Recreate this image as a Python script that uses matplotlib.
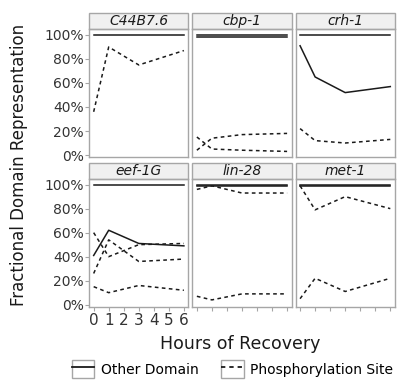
import matplotlib
matplotlib.use("Agg")
import matplotlib.pyplot as plt
from matplotlib.lines import Line2D
from matplotlib.patches import Rectangle
from matplotlib.legend_handler import HandlerTuple
from matplotlib.ticker import PercentFormatter

# Data: hours of recovery and fractional representation (%) per gene
hours = [0, 1, 3, 6]
genes = ["C44B7.6", "cbp-1", "crh-1", "eef-1G", "lin-28", "met-1"]

other_domain = {
    "C44B7.6": [[100, 100, 100, 100]],
    "cbp-1": [[100, 100, 100, 100], [98.5, 98.5, 98.5, 98.5]],
    "crh-1": [[100, 100, 100, 100], [91, 65, 52, 57]],
    "eef-1G": [[100, 100, 100, 100], [41, 62, 51, 49]],
    "lin-28": [[100, 100, 100, 100], [98.5, 98.5, 98.5, 98.5]],
    "met-1": [[100, 100, 100, 100], [98.5, 98.5, 98.5, 98.5]],
}
phospho_site = {
    "C44B7.6": [[36, 90, 75, 87]],
    "cbp-1": [[15, 5, 4, 3], [4, 14, 17, 18]],
    "crh-1": [[22, 12, 10, 13]],
    "eef-1G": [[60, 40, 50, 51], [26, 54, 36, 38], [15, 10, 16, 12]],
    "lin-28": [[96, 99, 93, 93], [7, 4, 9, 9]],
    "met-1": [[99, 79, 90, 80], [5, 22, 11, 22]],
}

line_col = "#1a1a1a"
border_col = "#a6a6a6"
dash = (0, (2.4, 2.2))

fig, axes = plt.subplots(2, 3, figsize=(3.98, 3.81), dpi=100, sharex=True, sharey=True)
fig.subplots_adjust(left=0.224, right=0.992, top=0.924, bottom=0.194,
                    wspace=0.04, hspace=0.165)

for ax, gene in zip(axes.flat, genes):
    for vals in other_domain[gene]:
        ax.plot(hours, vals, color=line_col, lw=1.1, ls="-")
    for vals in phospho_site[gene]:
        ax.plot(hours, vals, color=line_col, lw=1.1, ls=dash)
    ax.set_xlim(-0.3, 6.3)
    ax.set_ylim(-2, 105)
    ax.set_xticks(range(7))
    ax.set_yticks([0, 20, 40, 60, 80, 100])
    ax.yaxis.set_major_formatter(PercentFormatter(decimals=0))
    for s in ax.spines.values():
        s.set_color(border_col)
        s.set_linewidth(1.0)
    ax.tick_params(labelcolor="#333333", color=border_col, labelsize=10,
                   length=3, width=0.8, pad=1)
    # facet strip
    ax.add_patch(Rectangle((0, 1.0), 1, 0.125, transform=ax.transAxes, fc="#f0f0f0",
                           ec=border_col, lw=1.0, clip_on=False))
    ax.text(0.5, 1.0625, gene, transform=ax.transAxes, ha="center", va="center",
            fontsize=10, style="italic", color="#1a1a1a")

for ax in axes[0]:
    ax.tick_params(axis="x", bottom=False)
for ax in axes[1, 1:]:
    ax.tick_params(axis="x", labelbottom=False)
for ax in axes[:, 1:].flat:
    ax.tick_params(axis="y", left=False)
axes[1, 0].tick_params(axis="x", labelsize=11)

fig.text(0.048, 0.567, "Fractional Domain Representation", rotation=90,
         ha="center", va="center", fontsize=12, color="#1a1a1a")
fig.text(0.603, 0.098, "Hours of Recovery", ha="center", va="center",
         fontsize=12.5, color="#1a1a1a")

box = lambda: Rectangle((0, 0), 1, 1, fc="white", ec=border_col, lw=1.0)
h1 = (box(), Line2D([], [], color=line_col, lw=1.3, ls="-"))
h2 = (box(), Line2D([], [], color=line_col, lw=1.3, ls=dash))
fig.legend([h1, h2], ["Other Domain", "Phosphorylation Site"],
           handler_map={tuple: HandlerTuple(ndivide=1, pad=0)},
           loc="lower center", bbox_to_anchor=(0.585, -0.025), ncol=2, frameon=False,
           fontsize=10, handlelength=1.6, handleheight=1.6, columnspacing=1.6,
           handletextpad=0.5)

fig.savefig("out.png", dpi=100)
